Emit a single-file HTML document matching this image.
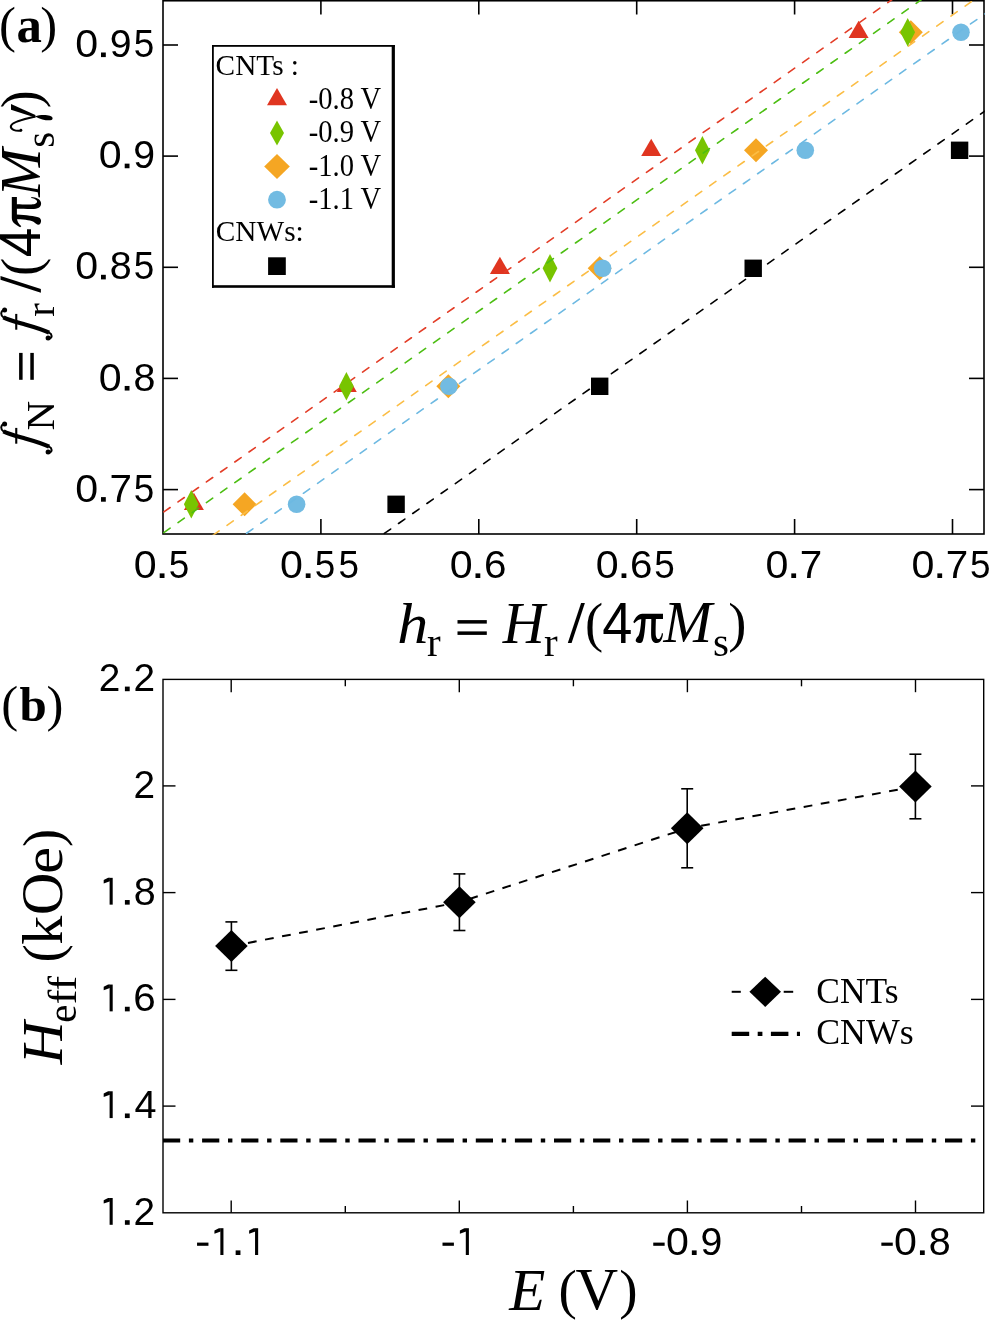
<!DOCTYPE html>
<html><head><meta charset="utf-8"><style>
html,body{margin:0;padding:0;background:#fff;overflow:hidden;}
svg{display:block;will-change:transform;}
text{fill:#000;}
</style></head><body>
<svg width="989" height="1320" viewBox="0 0 989 1320">
<rect width="989" height="1320" fill="#fff"/>
<defs><clipPath id="ca"><rect x="162.2" y="0" width="822.6" height="534.8"/></clipPath></defs>
<rect x="163" y="0.75" width="821" height="533.25" fill="none" stroke="#000" stroke-width="1.6"/>
<line x1="320.9" y1="534" x2="320.9" y2="519" stroke="#000" stroke-width="1.6"/>
<line x1="320.9" y1="0" x2="320.9" y2="14.5" stroke="#000" stroke-width="1.6"/>
<line x1="478.8" y1="534" x2="478.8" y2="519" stroke="#000" stroke-width="1.6"/>
<line x1="478.8" y1="0" x2="478.8" y2="14.5" stroke="#000" stroke-width="1.6"/>
<line x1="636.7" y1="534" x2="636.7" y2="519" stroke="#000" stroke-width="1.6"/>
<line x1="636.7" y1="0" x2="636.7" y2="14.5" stroke="#000" stroke-width="1.6"/>
<line x1="794.6" y1="534" x2="794.6" y2="519" stroke="#000" stroke-width="1.6"/>
<line x1="794.6" y1="0" x2="794.6" y2="14.5" stroke="#000" stroke-width="1.6"/>
<line x1="952.5" y1="534" x2="952.5" y2="519" stroke="#000" stroke-width="1.6"/>
<line x1="952.5" y1="0" x2="952.5" y2="14.5" stroke="#000" stroke-width="1.6"/>
<line x1="163" y1="489.6" x2="178" y2="489.6" stroke="#000" stroke-width="1.6"/>
<line x1="984" y1="489.6" x2="969" y2="489.6" stroke="#000" stroke-width="1.6"/>
<line x1="163" y1="378.4" x2="178" y2="378.4" stroke="#000" stroke-width="1.6"/>
<line x1="984" y1="378.4" x2="969" y2="378.4" stroke="#000" stroke-width="1.6"/>
<line x1="163" y1="267.3" x2="178" y2="267.3" stroke="#000" stroke-width="1.6"/>
<line x1="984" y1="267.3" x2="969" y2="267.3" stroke="#000" stroke-width="1.6"/>
<line x1="163" y1="156.1" x2="178" y2="156.1" stroke="#000" stroke-width="1.6"/>
<line x1="984" y1="156.1" x2="969" y2="156.1" stroke="#000" stroke-width="1.6"/>
<line x1="163" y1="45.0" x2="178" y2="45.0" stroke="#000" stroke-width="1.6"/>
<line x1="984" y1="45.0" x2="969" y2="45.0" stroke="#000" stroke-width="1.6"/>
<g clip-path="url(#ca)">
<polygon points="193.9,492.8 203.9,510.1 183.9,510.1" fill="#E03520"/>
<polygon points="346.8,374.8 356.8,392.1 336.8,392.1" fill="#E03520"/>
<polygon points="499.9,256.8 509.9,274.1 489.9,274.1" fill="#E03520"/>
<polygon points="651.2,138.8 661.2,156.1 641.2,156.1" fill="#E03520"/>
<polygon points="858.6,20.7 868.6,38.0 848.6,38.0" fill="#E03520"/>
<line x1="149.64" y1="521.90" x2="1111.00" y2="-154.40" stroke="#E33D27" stroke-width="1.6" stroke-linecap="round" stroke-dasharray="7.7 9.655"/>
<polygon points="244.6,492.3 256.6,504.3 244.6,516.3 232.6,504.3" fill="#F5A623"/>
<polygon points="448.3,374.3 460.3,386.3 448.3,398.3 436.3,386.3" fill="#F5A623"/>
<polygon points="599.7,256.3 611.7,268.3 599.7,280.3 587.7,268.3" fill="#F5A623"/>
<polygon points="756.0,138.3 768.0,150.3 756.0,162.3 744.0,150.3" fill="#F5A623"/>
<polygon points="910.8,20.2 922.8,32.2 910.8,44.2 898.8,32.2" fill="#F5A623"/>
<line x1="141.84" y1="585.31" x2="1111.00" y2="-96.47" stroke="#FBBD45" stroke-width="1.6" stroke-linecap="round" stroke-dasharray="7.7 9.655"/>
<circle cx="296.6" cy="504.3" r="8.8" fill="#72BBE2"/>
<circle cx="448.9" cy="386.3" r="8.8" fill="#72BBE2"/>
<circle cx="602.6" cy="268.3" r="8.8" fill="#72BBE2"/>
<circle cx="805.3" cy="150.3" r="8.8" fill="#72BBE2"/>
<circle cx="961.0" cy="32.2" r="8.8" fill="#72BBE2"/>
<line x1="147.24" y1="603.12" x2="1111.00" y2="-74.86" stroke="#6DB9E2" stroke-width="1.6" stroke-linecap="round" stroke-dasharray="7.7 9.655"/>
<polygon points="191.3,490.0 198.7,504.3 191.3,518.6 183.9,504.3" fill="#78C400"/>
<polygon points="346.4,372.0 353.8,386.3 346.4,400.6 339.0,386.3" fill="#78C400"/>
<polygon points="550.0,254.0 557.4,268.3 550.0,282.6 542.6,268.3" fill="#78C400"/>
<polygon points="702.4,136.0 709.8,150.3 702.4,164.6 695.0,150.3" fill="#78C400"/>
<polygon points="907.7,17.9 915.1,32.2 907.7,46.5 900.3,32.2" fill="#78C400"/>
<line x1="149.64" y1="542.57" x2="1111.00" y2="-133.73" stroke="#4CBE12" stroke-width="1.6" stroke-linecap="round" stroke-dasharray="7.7 9.655"/>
<rect x="387.4" y="495.6" width="17.4" height="17.4" fill="#000"/>
<rect x="591.0" y="377.6" width="17.4" height="17.4" fill="#000"/>
<rect x="744.5" y="259.6" width="17.4" height="17.4" fill="#000"/>
<rect x="950.9" y="141.6" width="17.4" height="17.4" fill="#000"/>
<line x1="143.04" y1="703.22" x2="1111.00" y2="22.28" stroke="#000" stroke-width="1.6" stroke-linecap="round" stroke-dasharray="7.7 9.655"/>
</g>
<rect x="212" y="45" width="182.9" height="242.8" fill="#fff"/>
<rect x="212" y="45" width="1.8" height="242.8"/><rect x="212" y="45" width="182.9" height="1.8"/>
<rect x="391.7" y="45" width="3.2" height="242.8"/><rect x="212" y="285.2" width="182.9" height="2.6"/>
<polygon points="277.0,88.0 287.0,105.2 267.0,105.2" fill="#E03520"/>
<polygon points="277.0,120.5 284.0,133.0 277.0,145.5 270.0,133.0" fill="#78C400"/>
<polygon points="277.0,154.0 289.8,166.5 277.0,179.0 264.2,166.5" fill="#F5A623"/>
<circle cx="277.0" cy="199.7" r="8.9" fill="#72BBE2"/>
<rect x="268.1" y="257.3" width="17.7" height="17.7" fill="#000"/>
<text x="215.60" y="75.20" style="font-family:'Liberation Serif';font-size:29.3px">CNTs :</text>
<text x="308.75" y="108.60" textLength="72.48" lengthAdjust="spacingAndGlyphs" style="font-family:'Liberation Serif';font-size:30.5px">-0.8 V</text>
<text x="308.75" y="142.10" textLength="72.48" lengthAdjust="spacingAndGlyphs" style="font-family:'Liberation Serif';font-size:30.5px">-0.9 V</text>
<text x="308.75" y="175.60" textLength="72.48" lengthAdjust="spacingAndGlyphs" style="font-family:'Liberation Serif';font-size:30.5px">-1.0 V</text>
<text x="308.75" y="209.10" textLength="72.48" lengthAdjust="spacingAndGlyphs" style="font-family:'Liberation Serif';font-size:30.5px">-1.1 V</text>
<text x="215.80" y="241.40" style="font-family:'Liberation Serif';font-size:29.3px">CNWs:</text>
<rect x="163" y="679.4" width="820.7" height="533.4" fill="none" stroke="#000" stroke-width="1.4"/>
<line x1="231.2" y1="1212.8" x2="231.2" y2="1200.5" stroke="#000" stroke-width="1.4"/>
<line x1="231.2" y1="679.4" x2="231.2" y2="692.2" stroke="#000" stroke-width="1.4"/>
<line x1="459.3" y1="1212.8" x2="459.3" y2="1200.5" stroke="#000" stroke-width="1.4"/>
<line x1="459.3" y1="679.4" x2="459.3" y2="692.2" stroke="#000" stroke-width="1.4"/>
<line x1="687.4" y1="1212.8" x2="687.4" y2="1200.5" stroke="#000" stroke-width="1.4"/>
<line x1="687.4" y1="679.4" x2="687.4" y2="692.2" stroke="#000" stroke-width="1.4"/>
<line x1="915.5" y1="1212.8" x2="915.5" y2="1200.5" stroke="#000" stroke-width="1.4"/>
<line x1="915.5" y1="679.4" x2="915.5" y2="692.2" stroke="#000" stroke-width="1.4"/>
<line x1="345.3" y1="1212.8" x2="345.3" y2="1206" stroke="#000" stroke-width="1.4"/>
<line x1="345.3" y1="679.4" x2="345.3" y2="686.3" stroke="#000" stroke-width="1.4"/>
<line x1="573.4" y1="1212.8" x2="573.4" y2="1206" stroke="#000" stroke-width="1.4"/>
<line x1="573.4" y1="679.4" x2="573.4" y2="686.3" stroke="#000" stroke-width="1.4"/>
<line x1="801.5" y1="1212.8" x2="801.5" y2="1206" stroke="#000" stroke-width="1.4"/>
<line x1="801.5" y1="679.4" x2="801.5" y2="686.3" stroke="#000" stroke-width="1.4"/>
<line x1="163" y1="1106.1" x2="175.5" y2="1106.1" stroke="#000" stroke-width="1.4"/>
<line x1="983.7" y1="1106.1" x2="971" y2="1106.1" stroke="#000" stroke-width="1.4"/>
<line x1="163" y1="999.4" x2="175.5" y2="999.4" stroke="#000" stroke-width="1.4"/>
<line x1="983.7" y1="999.4" x2="971" y2="999.4" stroke="#000" stroke-width="1.4"/>
<line x1="163" y1="892.6" x2="175.5" y2="892.6" stroke="#000" stroke-width="1.4"/>
<line x1="983.7" y1="892.6" x2="971" y2="892.6" stroke="#000" stroke-width="1.4"/>
<line x1="163" y1="785.9" x2="175.5" y2="785.9" stroke="#000" stroke-width="1.4"/>
<line x1="983.7" y1="785.9" x2="971" y2="785.9" stroke="#000" stroke-width="1.4"/>
<polyline points="231.4,946.1 459.4,902.2 687.2,828.3 915.4,786.5" fill="none" stroke="#000" stroke-width="2" stroke-dasharray="8.8 8.57" stroke-dashoffset="0.5"/>
<line x1="231.4" y1="921.9" x2="231.4" y2="970.3000000000001" stroke="#000" stroke-width="1.6"/>
<line x1="225.4" y1="921.9" x2="237.4" y2="921.9" stroke="#000" stroke-width="1.6"/>
<line x1="225.4" y1="970.3000000000001" x2="237.4" y2="970.3000000000001" stroke="#000" stroke-width="1.6"/>
<polygon points="231.4,930.1 247.7,946.1 231.4,962.1 215.1,946.1" fill="#000"/>
<line x1="459.4" y1="873.9000000000001" x2="459.4" y2="930.5" stroke="#000" stroke-width="1.6"/>
<line x1="453.4" y1="873.9000000000001" x2="465.4" y2="873.9000000000001" stroke="#000" stroke-width="1.6"/>
<line x1="453.4" y1="930.5" x2="465.4" y2="930.5" stroke="#000" stroke-width="1.6"/>
<polygon points="459.4,886.2 475.7,902.2 459.4,918.2 443.1,902.2" fill="#000"/>
<line x1="687.2" y1="788.8" x2="687.2" y2="867.8" stroke="#000" stroke-width="1.6"/>
<line x1="681.2" y1="788.8" x2="693.2" y2="788.8" stroke="#000" stroke-width="1.6"/>
<line x1="681.2" y1="867.8" x2="693.2" y2="867.8" stroke="#000" stroke-width="1.6"/>
<polygon points="687.2,812.3 703.5,828.3 687.2,844.3 670.9,828.3" fill="#000"/>
<line x1="915.4" y1="754.2" x2="915.4" y2="818.8" stroke="#000" stroke-width="1.6"/>
<line x1="909.4" y1="754.2" x2="921.4" y2="754.2" stroke="#000" stroke-width="1.6"/>
<line x1="909.4" y1="818.8" x2="921.4" y2="818.8" stroke="#000" stroke-width="1.6"/>
<polygon points="915.4,770.5 931.7,786.5 915.4,802.5 899.1,786.5" fill="#000"/>
<line x1="163" y1="1140.5" x2="984" y2="1140.5" stroke="#000" stroke-width="4.2" stroke-dasharray="17.2 8.7 4.4 8.8"/>
<line x1="731.7" y1="991.8" x2="740.8" y2="991.8" stroke="#000" stroke-width="2"/>
<line x1="783.7" y1="991.8" x2="793.2" y2="991.8" stroke="#000" stroke-width="2"/>
<polygon points="765.2,976.7 781.0,991.8 765.2,1006.9 749.4,991.8" fill="#000"/>
<line x1="731.7" y1="1033.9" x2="800" y2="1033.9" stroke="#000" stroke-width="4.2" stroke-dasharray="17.5 8.5 4.7 8.5"/>
<text x="816.24" y="1002.50" style="font-family:'Liberation Serif';font-size:35.5px">CNTs</text>
<text x="816.23" y="1043.90" style="font-family:'Liberation Serif';font-size:35.8px">CNWs</text>
<g style="font-family:'Liberation Sans';font-size:39.6px" fill="#000"><text x="75.19" y="501.70" textLength="22.90" lengthAdjust="spacingAndGlyphs">0</text><rect x="101.00" y="497.10" width="4.8" height="4.6"/><text x="109.43" y="501.70" textLength="22.46" lengthAdjust="spacingAndGlyphs">7</text><text x="133.73" y="501.70" textLength="20.48" lengthAdjust="spacingAndGlyphs">5</text><text x="98.89" y="390.55" textLength="22.90" lengthAdjust="spacingAndGlyphs">0</text><rect x="124.70" y="385.95" width="4.8" height="4.6"/><text x="133.49" y="390.55" textLength="21.91" lengthAdjust="spacingAndGlyphs">8</text><text x="75.19" y="279.40" textLength="22.90" lengthAdjust="spacingAndGlyphs">0</text><rect x="101.00" y="274.80" width="4.8" height="4.6"/><text x="109.79" y="279.40" textLength="21.91" lengthAdjust="spacingAndGlyphs">8</text><text x="133.73" y="279.40" textLength="20.48" lengthAdjust="spacingAndGlyphs">5</text><text x="98.89" y="168.25" textLength="22.90" lengthAdjust="spacingAndGlyphs">0</text><rect x="124.70" y="163.65" width="4.8" height="4.6"/><text x="133.36" y="168.25" textLength="21.80" lengthAdjust="spacingAndGlyphs">9</text><text x="75.19" y="57.10" textLength="22.90" lengthAdjust="spacingAndGlyphs">0</text><rect x="101.00" y="52.50" width="4.8" height="4.6"/><text x="109.66" y="57.10" textLength="21.80" lengthAdjust="spacingAndGlyphs">9</text><text x="133.73" y="57.10" textLength="20.48" lengthAdjust="spacingAndGlyphs">5</text><text x="133.89" y="578.00" textLength="22.90" lengthAdjust="spacingAndGlyphs">0</text><rect x="159.70" y="573.40" width="4.8" height="4.6"/><text x="168.73" y="578.00" textLength="20.48" lengthAdjust="spacingAndGlyphs">5</text><text x="279.94" y="578.00" textLength="22.90" lengthAdjust="spacingAndGlyphs">0</text><rect x="305.75" y="573.40" width="4.8" height="4.6"/><text x="314.78" y="578.00" textLength="20.48" lengthAdjust="spacingAndGlyphs">5</text><text x="338.48" y="578.00" textLength="20.48" lengthAdjust="spacingAndGlyphs">5</text><text x="449.69" y="578.00" textLength="22.90" lengthAdjust="spacingAndGlyphs">0</text><rect x="475.50" y="573.40" width="4.8" height="4.6"/><text x="483.95" y="578.00" textLength="22.46" lengthAdjust="spacingAndGlyphs">6</text><text x="595.74" y="578.00" textLength="22.90" lengthAdjust="spacingAndGlyphs">0</text><rect x="621.55" y="573.40" width="4.8" height="4.6"/><text x="630.00" y="578.00" textLength="22.46" lengthAdjust="spacingAndGlyphs">6</text><text x="654.28" y="578.00" textLength="20.48" lengthAdjust="spacingAndGlyphs">5</text><text x="765.49" y="578.00" textLength="22.90" lengthAdjust="spacingAndGlyphs">0</text><rect x="791.30" y="573.40" width="4.8" height="4.6"/><text x="799.73" y="578.00" textLength="22.46" lengthAdjust="spacingAndGlyphs">7</text><text x="911.54" y="578.00" textLength="22.90" lengthAdjust="spacingAndGlyphs">0</text><rect x="937.35" y="573.40" width="4.8" height="4.6"/><text x="945.78" y="578.00" textLength="22.46" lengthAdjust="spacingAndGlyphs">7</text><text x="970.08" y="578.00" textLength="20.48" lengthAdjust="spacingAndGlyphs">5</text><rect x="109.60" y="1198.00" width="3.1" height="26.8"/><polygon points="103.70,1200.20 103.70,1203.60 109.90,1201.40 109.90,1198.00 108.10,1198.00"/><rect x="124.90" y="1220.20" width="4.8" height="4.6"/><text x="133.45" y="1224.80" textLength="21.58" lengthAdjust="spacingAndGlyphs">2</text><rect x="109.60" y="1091.28" width="3.1" height="26.8"/><polygon points="103.70,1093.48 103.70,1096.88 109.90,1094.68 109.90,1091.28 108.10,1091.28"/><rect x="124.90" y="1113.48" width="4.8" height="4.6"/><text x="134.49" y="1118.08" textLength="22.02" lengthAdjust="spacingAndGlyphs">4</text><rect x="109.60" y="984.56" width="3.1" height="26.8"/><polygon points="103.70,986.76 103.70,990.16 109.90,987.96 109.90,984.56 108.10,984.56"/><rect x="124.90" y="1006.76" width="4.8" height="4.6"/><text x="133.35" y="1011.36" textLength="22.46" lengthAdjust="spacingAndGlyphs">6</text><rect x="109.60" y="877.84" width="3.1" height="26.8"/><polygon points="103.70,880.04 103.70,883.44 109.90,881.24 109.90,877.84 108.10,877.84"/><rect x="124.90" y="900.04" width="4.8" height="4.6"/><text x="133.69" y="904.64" textLength="21.91" lengthAdjust="spacingAndGlyphs">8</text><text x="133.45" y="797.92" textLength="21.58" lengthAdjust="spacingAndGlyphs">2</text><text x="98.75" y="691.20" textLength="21.58" lengthAdjust="spacingAndGlyphs">2</text><rect x="124.90" y="686.60" width="4.8" height="4.6"/><text x="133.45" y="691.20" textLength="21.58" lengthAdjust="spacingAndGlyphs">2</text><rect x="197.05" y="1242.60" width="11.4" height="3.2"/><rect x="220.35" y="1228.20" width="3.1" height="26.8"/><polygon points="214.45,1230.40 214.45,1233.80 220.65,1231.60 220.65,1228.20 218.85,1228.20"/><rect x="235.65" y="1250.40" width="4.8" height="4.6"/><rect x="255.05" y="1228.20" width="3.1" height="26.8"/><polygon points="249.15,1230.40 249.15,1233.80 255.35,1231.60 255.35,1228.20 253.55,1228.20"/><rect x="442.50" y="1242.60" width="11.4" height="3.2"/><rect x="465.80" y="1228.20" width="3.1" height="26.8"/><polygon points="459.90,1230.40 459.90,1233.80 466.10,1231.60 466.10,1228.20 464.30,1228.20"/><rect x="653.25" y="1242.60" width="11.4" height="3.2"/><text x="666.04" y="1255.00" textLength="22.90" lengthAdjust="spacingAndGlyphs">0</text><rect x="691.85" y="1250.40" width="4.8" height="4.6"/><text x="700.51" y="1255.00" textLength="21.80" lengthAdjust="spacingAndGlyphs">9</text><rect x="881.35" y="1242.60" width="11.4" height="3.2"/><text x="894.14" y="1255.00" textLength="22.90" lengthAdjust="spacingAndGlyphs">0</text><rect x="919.95" y="1250.40" width="4.8" height="4.6"/><text x="928.74" y="1255.00" textLength="21.91" lengthAdjust="spacingAndGlyphs">8</text></g>
<text x="-1.03" y="42.20" style="font-family:'Liberation Serif';font-size:50.8px">(</text>
<text x="16.56" y="42.20" style="font-family:'Liberation Serif';font-size:50.8px;font-weight:bold">a</text>
<text x="40.26" y="42.20" style="font-family:'Liberation Serif';font-size:50.8px">)</text>
<text x="1.37" y="720.50" style="font-family:'Liberation Serif';font-size:50.8px">(</text>
<text x="19.58" y="720.60" style="font-family:'Liberation Serif';font-size:49px;font-weight:bold">b</text>
<text x="46.46" y="720.50" style="font-family:'Liberation Serif';font-size:50.8px">)</text>
<text x="397.36" y="642.60" textLength="31.05" lengthAdjust="spacingAndGlyphs" style="font-family:'Liberation Serif';font-size:57.5px;font-style:italic">h</text>
<text x="426.88" y="655.90" style="font-family:'Liberation Serif';font-size:41px">r</text>
<text x="502.63" y="642.60" style="font-family:'Liberation Serif';font-size:58.2px;font-style:italic">H</text>
<text x="543.88" y="655.90" style="font-family:'Liberation Serif';font-size:41px">r</text>
<text x="584.90" y="641.00" style="font-family:'Liberation Serif';font-size:54.5px">(</text>
<text x="602.26" y="643.00" textLength="30.11" lengthAdjust="spacingAndGlyphs" style="font-family:'Liberation Sans';font-size:56.7px">4</text>
<text x="663.38" y="642.40" style="font-family:'Liberation Serif';font-size:58.3px;font-style:italic">M</text>
<text x="712.92" y="655.80" style="font-family:'Liberation Serif';font-size:41px">s</text>
<text x="728.14" y="641.00" style="font-family:'Liberation Serif';font-size:54.5px">)</text>
<path transform="translate(633.30,642.90) scale(1.0,1.0)" d="M0,-20.8 C2.5,-25.5 4.5,-29.1 9,-29.1 L29.7,-29.1 L29.7,-24 L9.5,-24 C6,-24 3.5,-22.5 1,-19.6 Z M8,-24 L12.4,-24 C11.8,-15 11,-6 9.4,-2 C8.4,0.5 5,0.8 3.2,-0.8 C1.5,-2.5 3,-5 5,-7 C6.5,-9 7.4,-15 8,-24 Z M18,-24 L22.6,-24 C22.4,-18 22.2,-10 22.6,-7 C23.2,-4 25,-3 26.5,-4.5 C27.5,-5.5 28.3,-7.5 28.6,-9.8 L29.7,-9.4 C29.5,-5 27.5,0.2 23.5,0.2 C19.5,0.2 17.8,-3 17.8,-9 C17.8,-15 18,-20 18,-24 Z"/>
<polygon transform="translate(567.80,642.50)" points="13.30,-39.60 17.10,-39.60 3.80,0.4 0,0.4"/>
<rect x="457.5" y="620.1" width="29.3" height="3.5"/><rect x="457.5" y="631.4" width="29.3" height="3.5"/>
<text x="509.19" y="1309.70" style="font-family:'Liberation Serif';font-size:59px;font-style:italic">E</text>
<text x="558.48" y="1308.30" style="font-family:'Liberation Serif';font-size:55px">(</text>
<text x="575.54" y="1308.80" style="font-family:'Liberation Serif';font-size:59px">V</text>
<text x="619.23" y="1308.30" style="font-family:'Liberation Serif';font-size:55px">)</text>
<g transform="rotate(-90)"><text x="-430.38" y="53.80" style="font-family:'Liberation Serif';font-size:41px">N</text><text x="-316.72" y="54.10" style="font-family:'Liberation Serif';font-size:41px">r</text><text x="-275.90" y="38.50" style="font-family:'Liberation Serif';font-size:54.5px">(</text><text x="-257.33" y="40.10" textLength="29.69" lengthAdjust="spacingAndGlyphs" style="font-family:'Liberation Sans';font-size:56.8px">4</text><text x="-196.82" y="40.00" style="font-family:'Liberation Serif';font-size:58px;font-style:italic">M</text><text x="-147.78" y="54.00" style="font-family:'Liberation Serif';font-size:41px">s</text><text x="-108.14" y="38.50" style="font-family:'Liberation Serif';font-size:54px">)</text><g transform="translate(-454.90,40.10)"><path d="M2.3,8.8 C3.2,12.6 6.6,12.2 8.2,9 C10.2,5 14,-6 16.5,-15 C19,-24 21,-32 23.6,-36.6 C25.6,-39.8 29.6,-39.6 31.1,-36.4" fill="none" stroke="#000" stroke-width="2.0"/><path d="M8.2,9 C10.2,5 14,-6 16.5,-15 C19,-24 21,-32 23.6,-36.6" fill="none" stroke="#000" stroke-width="4.2"/><circle cx="2.9" cy="8.0" r="2.5"/><circle cx="30.9" cy="-35.5" r="2.5"/><rect x="11.2" y="-24.9" width="15.8" height="2.1"/></g><g transform="translate(-340.90,40.10)"><path d="M2.3,8.8 C3.2,12.6 6.6,12.2 8.2,9 C10.2,5 14,-6 16.5,-15 C19,-24 21,-32 23.6,-36.6 C25.6,-39.8 29.6,-39.6 31.1,-36.4" fill="none" stroke="#000" stroke-width="2.0"/><path d="M8.2,9 C10.2,5 14,-6 16.5,-15 C19,-24 21,-32 23.6,-36.6" fill="none" stroke="#000" stroke-width="4.2"/><circle cx="2.9" cy="8.0" r="2.5"/><circle cx="30.9" cy="-35.5" r="2.5"/><rect x="11.2" y="-24.9" width="15.8" height="2.1"/></g><g transform="translate(-131.80,39.70)"><polygon points="22.0,-28.7 27.8,-28.7 16.8,-4.3 14.4,-4.6"/><path d="M1.2,-18.2 C0.3,-25 2.6,-29.2 5.6,-28.8 C9.2,-28.3 11.6,-20 13.8,-10.5 L15.4,-4.2" fill="none" stroke="#000" stroke-width="2.1"/><path d="M15.4,-4.6 C17.8,1.5 17.2,12.6 13.6,12.9 C10.2,13.1 10.8,4 15.4,-4.6 Z" fill="#000"/><circle cx="1.6" cy="-18.8" r="1.4"/></g><path transform="translate(-227.20,40.90) scale(1.02,1.0)" d="M0,-20.8 C2.5,-25.5 4.5,-29.1 9,-29.1 L29.7,-29.1 L29.7,-24 L9.5,-24 C6,-24 3.5,-22.5 1,-19.6 Z M8,-24 L12.4,-24 C11.8,-15 11,-6 9.4,-2 C8.4,0.5 5,0.8 3.2,-0.8 C1.5,-2.5 3,-5 5,-7 C6.5,-9 7.4,-15 8,-24 Z M18,-24 L22.6,-24 C22.4,-18 22.2,-10 22.6,-7 C23.2,-4 25,-3 26.5,-4.5 C27.5,-5.5 28.3,-7.5 28.6,-9.8 L29.7,-9.4 C29.5,-5 27.5,0.2 23.5,0.2 C19.5,0.2 17.8,-3 17.8,-9 C17.8,-15 18,-20 18,-24 Z"/><polygon transform="translate(-292.70,40.50)" points="13.00,-40.00 16.80,-40.00 3.80,0.4 0,0.4"/><text x="-1064.36" y="61.80" textLength="42.84" lengthAdjust="spacingAndGlyphs" style="font-family:'Liberation Serif';font-size:57.6px;font-style:italic">H</text><text x="-1022.79" y="75.60" style="font-family:'Liberation Serif';font-size:40.7px">e</text><text x="-1004.31" y="76.00" textLength="28.46" lengthAdjust="spacingAndGlyphs" style="font-family:'Liberation Serif';font-size:40.7px">ff</text><text x="-962.50" y="60.50" style="font-family:'Liberation Serif';font-size:54.5px">(</text><text x="-944.70" y="62.30" style="font-family:'Liberation Serif';font-size:58px">k</text><text x="-915.32" y="61.70" style="font-family:'Liberation Serif';font-size:59px">O</text><text x="-873.98" y="61.70" textLength="27.03" lengthAdjust="spacingAndGlyphs" style="font-family:'Liberation Serif';font-size:58px">e</text><text x="-847.06" y="60.50" style="font-family:'Liberation Serif';font-size:54.5px">)</text></g>
<rect x="19.1" y="352.9" width="3.5" height="26.9"/><rect x="30.3" y="352.9" width="3.5" height="26.9"/>
</svg>
</body></html>
